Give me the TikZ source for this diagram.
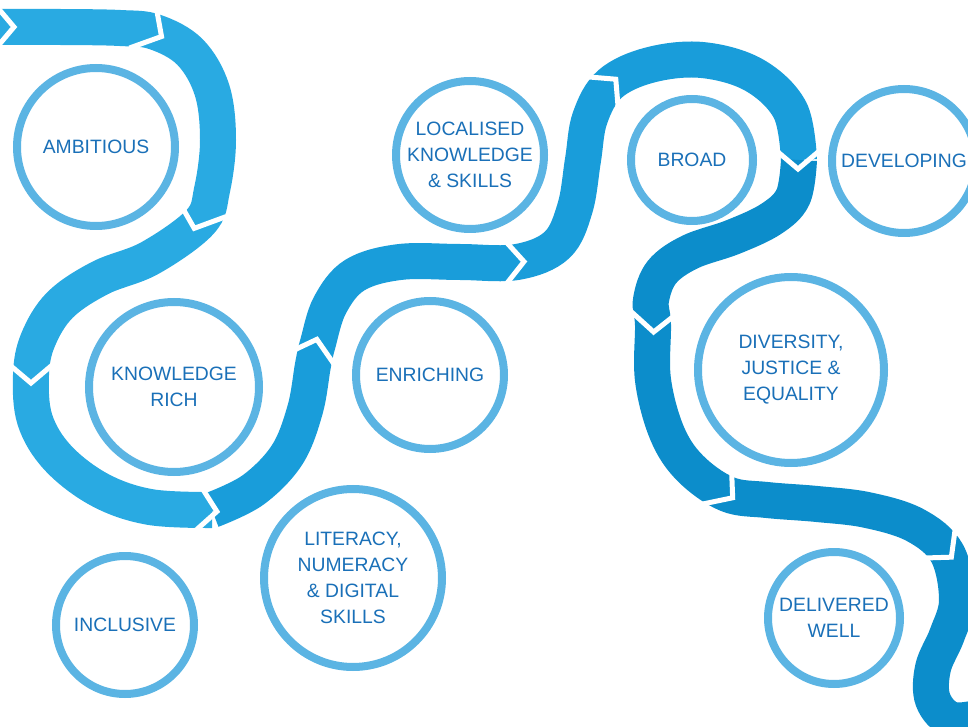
\documentclass[tikz,border=0pt]{standalone}
\usepackage{fontspec}
\setmainfont{Liberation Sans}
\definecolor{bandleft}{HTML}{29AAE2}
\definecolor{bandmid}{HTML}{199DDA}
\definecolor{bandright}{HTML}{0C8DCB}
\definecolor{ringblue}{HTML}{5BB4E3}
\definecolor{labelblue}{HTML}{1A70B8}
\begin{document}
\begin{tikzpicture}[x=0.75pt,y=-0.75pt,
		band/.style={line width=27pt},
		chevron/.style={white,line width=3.75pt},
		stage/.style={circle,draw=ringblue,line width=6pt,fill=white,inner sep=0pt,
			text=labelblue,align=center,font=\fontsize{14.5}{19.5}\selectfont}]
	\useasboundingbox (0,0) rectangle (968,727);
	\clip (0,0) rectangle (968,727);
	% winding band
	\draw[band, bandleft] plot[smooth, tension=0.6] coordinates {
		(-10,27) (60,27) (120,28) (155,32) (190,52) (212,90) (218,140)
		(212,190) (200,222) (150,258) (100,278) (60,305) (38,340) (31,375)
		(35,420) (58,458) (100,490) (150,507) (212,510)};
	\draw[band, bandmid] plot[smooth, tension=0.6] coordinates {
		(212,510) (253,490) (287,455) (305,410) (313,365) (318,343)
		(330,305) (355,275) (400,262) (460,262) (517,262) (557,245)
		(575,208) (583,160) (590,118) (610,84) (650,65) (702,60)
		(754,75) (790,110) (799,160)};
	\draw[band, bandright] plot[smooth, tension=0.6] coordinates {
		(799,160) (793,197) (771,219) (733,237) (690,252) (662,272)
		(651,300) (653,325) (653,380) (667,433) (690,468) (727,494)
		(767,500) (817,504) (867,510) (915,525) (947,553) (957,600)
		(947,635) (933,668) (933,700) (953,720) (990,715)};
	% chevron joints
	\foreach \x/\y/\a in {3/27/0, 152/31/-30, 198/218/-110, 31/372/-90,
		206/510/-8, 314/350/75, 513/262/2, 608/87/45, 798/158/-90,
		654/321/-92, 724/491/-38, 944/549/-48}
		\draw[chevron, shift={(\x,\y)}, rotate=\a] (-11,-26) -- (11,0) -- (-11,26);
	% stages
	\node[stage, minimum size=118.5pt] (ambitious) at (96,147) {AMBITIOUS};
	\node[stage, minimum size=127.5pt] (knowledge) at (174,387) {KNOWLEDGE\\RICH};
	\node[stage, minimum size=103.5pt] (inclusive) at (125,625) {INCLUSIVE};
	\node[stage, minimum size=133.5pt] (literacy) at (353,578) {LITERACY,\\NUMERACY\\\& DIGITAL\\SKILLS};
	\node[stage, minimum size=111pt] (enriching) at (430,375) {ENRICHING};
	\node[stage, minimum size=111pt] (localised) at (470,155) {LOCALISED\\KNOWLEDGE\\\& SKILLS};
	\node[stage, minimum size=91.5pt] (broad) at (692,160) {BROAD};
	\node[stage, minimum size=108pt] (developing) at (904,161) {DEVELOPING};
	\node[stage, minimum size=139.5pt] (diversity) at (791,370) {DIVERSITY,\\JUSTICE \&\\EQUALITY};
	\node[stage, minimum size=99pt] (delivered) at (834,618) {DELIVERED\\WELL};
\end{tikzpicture}
\end{document}
